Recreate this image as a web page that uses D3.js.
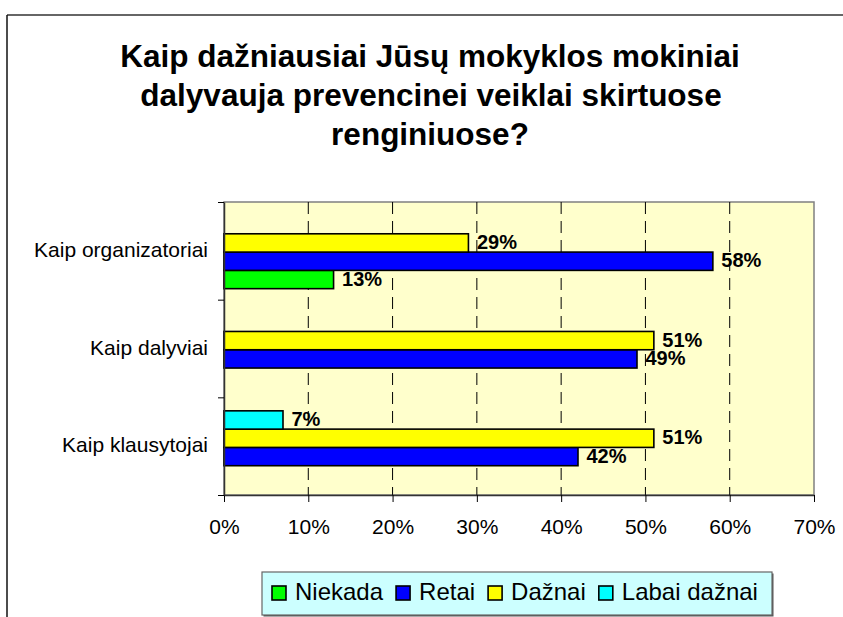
<!DOCTYPE html>
<html>
<head>
<meta charset="utf-8">
<script src="https://cdn.jsdelivr.net/npm/d3@7"></script>
<style>
  html, body { margin: 0; padding: 0; background: #ffffff; }
  svg { display: block; }
  text { font-family: "Liberation Sans", Arial, sans-serif; fill: #000; }
</style>
</head>
<body>
<div id="chart"></div>
<script>
// ---- data ----
const titleLines = ["Kaip dažniausiai Jūsų mokyklos mokiniai", "dalyvauja prevencinei veiklai skirtuose", "renginiuose?"];
const categories = ["Kaip organizatoriai", "Kaip dalyviai", "Kaip klausytojai"];
const seriesNames = ["Niekada", "Retai", "Dažnai", "Labai dažnai"];
const niekada = [13, null, null];
const retai = [58, 49, 42];
const daznai = [29, 51, 51];
const labaiDaznai = [null, null, 7];
const seriesColors = ["#00FF00", "#0000FF", "#FFFF00", "#00FFFF"];
const xTicks = [0, 10, 20, 30, 40, 50, 60, 70];

const seriesValues = [niekada, retai, daznai, labaiDaznai];

// ---- layout ----
const W = 843, H = 617;
const plot = { left: 224, right: 814, top: 202, bottom: 495 };

const svg = d3.select("#chart").append("svg")
  .attr("width", W).attr("height", H);

// chart frame (partially visible)
svg.append("line").attr("x1", 7).attr("x2", W).attr("y1", 15).attr("y2", 15)
  .attr("stroke", "#333").attr("stroke-width", 1.5);
svg.append("line").attr("x1", 7).attr("x2", 7).attr("y1", 15).attr("y2", H)
  .attr("stroke", "#111").attr("stroke-width", 1.5);

// title
const titleCenters = [430, 431, 430];
const titleBaselines = [67, 106, 145];
svg.append("g").selectAll("text").data(titleLines).join("text")
  .attr("x", (d, i) => titleCenters[i])
  .attr("y", (d, i) => titleBaselines[i])
  .attr("text-anchor", "middle")
  .attr("font-size", 31.5).attr("font-weight", "bold")
  .text(d => d);

// scales
const x = d3.scaleLinear().domain([0, 70]).range([plot.left, plot.right]);
const y = d3.scaleBand().domain(categories).range([plot.top, plot.bottom]).padding(0);
const bw = y.bandwidth();
// Excel draws the last series on top within each group
const ySeries = d3.scaleBand().domain(seriesNames.slice().reverse())
  .range([13.5, bw - 11]).padding(0);

// plot background
svg.append("rect")
  .attr("x", plot.left).attr("y", plot.top)
  .attr("width", plot.right - plot.left).attr("height", plot.bottom - plot.top)
  .attr("fill", "#FFFFCC").attr("stroke", "#808080").attr("stroke-width", 1.5);

// gridlines
svg.append("g").selectAll("line").data(xTicks.filter(t => t > 0 && t < 70)).join("line")
  .attr("x1", d => x(d)).attr("x2", d => x(d))
  .attr("y1", plot.top).attr("y2", plot.bottom)
  .attr("stroke", "#000").attr("stroke-width", 1)
  .attr("stroke-dasharray", "12,7");

// bars
const barData = [];
seriesNames.forEach((s, si) => {
  categories.forEach((c, ci) => {
    const v = seriesValues[si][ci];
    if (v !== null && v !== undefined) barData.push({ s, si, c, v });
  });
});

svg.append("g").selectAll("rect").data(barData).join("rect")
  .attr("x", x(0))
  .attr("y", d => y(d.c) + ySeries(d.s))
  .attr("width", d => x(d.v) - x(0))
  .attr("height", ySeries.bandwidth())
  .attr("fill", d => seriesColors[d.si])
  .attr("stroke", "#000").attr("stroke-width", 1.6);

// data labels
svg.append("g").selectAll("text").data(barData).join("text")
  .attr("x", d => x(d.v) + 8.5)
  .attr("y", d => y(d.c) + ySeries(d.s) + ySeries.bandwidth() / 2 + 6)
  .attr("font-size", 20).attr("font-weight", "bold")
  .text(d => d.v + "%");

// x axis
const xAxis = d3.axisBottom(x).tickValues(xTicks).tickFormat(d => d + "%")
  .tickSize(7).tickSizeOuter(0).tickPadding(17);
const gx = svg.append("g").attr("transform", `translate(0,${plot.bottom})`).call(xAxis);
gx.select(".domain").attr("stroke", "#333").attr("stroke-width", 1.5);
gx.selectAll(".tick line").attr("stroke", "#000");
gx.selectAll(".tick text").attr("font-size", 21)
  .attr("font-family", "'Liberation Sans', Arial, sans-serif").attr("fill", "#000");

// y axis: line + ticks at category boundaries
const yBound = d3.scaleLinear().domain([0, categories.length]).range([plot.top, plot.bottom]);
const yAxis = d3.axisLeft(yBound).tickValues(d3.range(categories.length + 1))
  .tickFormat("").tickSize(6).tickSizeOuter(0);
const gy = svg.append("g").attr("transform", `translate(${plot.left},0)`).call(yAxis);
gy.select(".domain").attr("stroke", "#333").attr("stroke-width", 1.5);
gy.selectAll(".tick line").attr("stroke", "#000");

// category labels
svg.append("g").selectAll("text").data(categories).join("text")
  .attr("x", 208)
  .attr("y", d => y(d) + bw / 2 + 6)
  .attr("text-anchor", "end")
  .attr("font-size", 21)
  .text(d => d);

// legend
const legend = svg.append("g");
const legBox = { x: 262, y: 572, w: 510, h: 43 };
legend.append("rect")
  .attr("x", legBox.x + 1.5).attr("y", legBox.y + 1.5).attr("width", legBox.w).attr("height", legBox.h)
  .attr("fill", "#555");
legend.append("rect")
  .attr("x", legBox.x).attr("y", legBox.y).attr("width", legBox.w).attr("height", legBox.h)
  .attr("fill", "#CCFFFF").attr("stroke", "#666").attr("stroke-width", 1.2);

const items = legend.selectAll("g.item").data(seriesNames).join("g").attr("class", "item");
items.append("rect")
  .attr("width", 14).attr("height", 14)
  .attr("fill", (d, i) => seriesColors[i])
  .attr("stroke", "#000").attr("stroke-width", 1.6);
items.append("text")
  .attr("x", 23).attr("y", 14)
  .attr("font-size", 24)
  .text(d => d);

let cx = 272;
items.each(function () {
  const g = d3.select(this);
  g.attr("transform", `translate(${cx},${586})`);
  const tw = g.select("text").node().getComputedTextLength();
  cx += 23 + tw + 13;
});
</script>
</body>
</html>
